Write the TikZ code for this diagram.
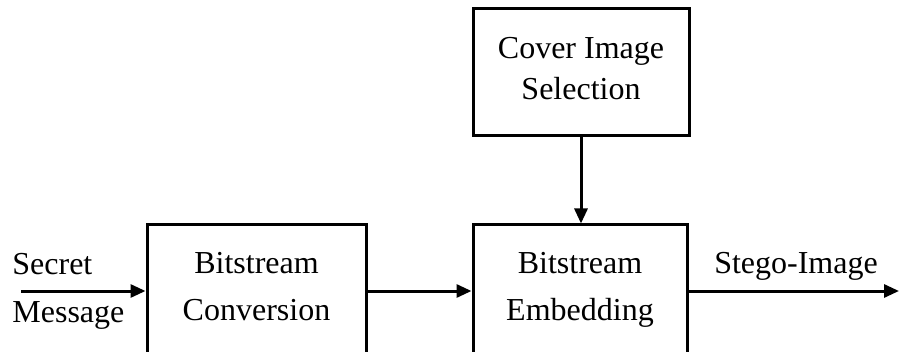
\documentclass[tikz,border=0pt]{standalone}
\usepackage{fontspec}
\setmainfont{Liberation Serif}
\usetikzlibrary{arrows.meta, positioning}

\begin{document}
\begin{tikzpicture}[x=0.5pt, y=-0.5pt,
  block/.style={draw, line width=1.5pt, align=center, text depth=6.5pt,
                font=\fontsize{16}{23.5}\selectfont},
  lbl/.style={align=left, inner sep=0pt, font=\fontsize{16}{24}\selectfont},
  arrow/.style={-{Triangle[length=7.5pt, width=6.5pt]}, line width=1.5pt}]

  \clip (0,0) rectangle (899,352);

  % main chain
  \node[block, minimum width=109.5pt, minimum height=67.5pt] (conv) at (256.5,292.5)
       {Bitstream\\Conversion};
  \node[block, minimum width=107pt, minimum height=67.5pt] (embed) at (580,292.5)
       {Bitstream\\Embedding};
  \node[block, text depth=4.5pt, font=\fontsize{16}{20.5}\selectfont,
        minimum width=108pt, minimum height=63.5pt] (cover) at (581,72.5)
       {Cover Image\\Selection};

  \coordinate (in)  at (21,291);
  \coordinate (out) at (899,291);

  \node[lbl, anchor=west] (secret) at (12,291) {Secret\\Message};
  \node[lbl, anchor=south] (stego) at (796,281) {Stego-Image};

  \draw[arrow] (in) -- (conv.west |- in);
  \draw[arrow] (conv.east |- in) -- (embed.west |- in);
  \draw[arrow] (cover.south) -- (cover.south |- embed.north);
  \draw[arrow] (embed.east |- out) -- (out);
\end{tikzpicture}
\end{document}
